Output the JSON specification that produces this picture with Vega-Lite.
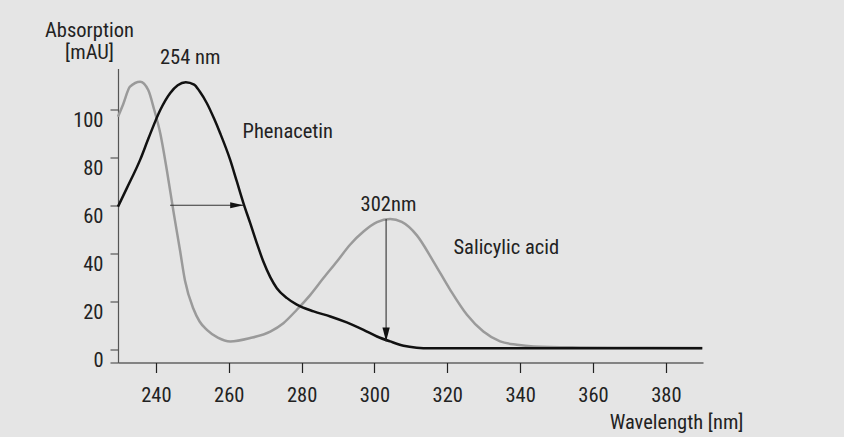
{
  "$schema": "https://vega.github.io/schema/vega-lite/v6.json",
  "autosize": "none",
  "width": 585,
  "height": 294,
  "padding": {"left": 118, "top": 68.5, "right": 141, "bottom": 74.5},
  "background": "#e5e5e5",
  "config": {
    "font": "Roboto Condensed, DejaVu Sans Condensed, sans-serif",
    "view": {"stroke": null}
  },
  "datasets": {
    "curves": [
      {"series": "Salicylic acid", "w": 229.6, "v": 96.9},
      {"series": "Salicylic acid", "w": 231, "v": 102},
      {"series": "Salicylic acid", "w": 232.9, "v": 109.4},
      {"series": "Salicylic acid", "w": 235.7, "v": 111.5},
      {"series": "Salicylic acid", "w": 237.9, "v": 108},
      {"series": "Salicylic acid", "w": 239.5, "v": 100},
      {"series": "Salicylic acid", "w": 241.2, "v": 90},
      {"series": "Salicylic acid", "w": 243, "v": 74.7},
      {"series": "Salicylic acid", "w": 244.9, "v": 56.7},
      {"series": "Salicylic acid", "w": 246.6, "v": 41.4},
      {"series": "Salicylic acid", "w": 248, "v": 28.5},
      {"series": "Salicylic acid", "w": 250.3, "v": 16.8},
      {"series": "Salicylic acid", "w": 252, "v": 11.5},
      {"series": "Salicylic acid", "w": 254, "v": 8},
      {"series": "Salicylic acid", "w": 257, "v": 4.8},
      {"series": "Salicylic acid", "w": 260.4, "v": 3.2},
      {"series": "Salicylic acid", "w": 265.9, "v": 4.6},
      {"series": "Salicylic acid", "w": 271.4, "v": 7.3},
      {"series": "Salicylic acid", "w": 275, "v": 10.8},
      {"series": "Salicylic acid", "w": 278.7, "v": 16.4},
      {"series": "Salicylic acid", "w": 282.4, "v": 22.6},
      {"series": "Salicylic acid", "w": 286, "v": 29.6},
      {"series": "Salicylic acid", "w": 289.7, "v": 36.5},
      {"series": "Salicylic acid", "w": 293.3, "v": 43.5},
      {"series": "Salicylic acid", "w": 297, "v": 49},
      {"series": "Salicylic acid", "w": 300.7, "v": 52.9},
      {"series": "Salicylic acid", "w": 304.3, "v": 54.2},
      {"series": "Salicylic acid", "w": 307.5, "v": 53},
      {"series": "Salicylic acid", "w": 311.6, "v": 47.5},
      {"series": "Salicylic acid", "w": 316.2, "v": 36.5},
      {"series": "Salicylic acid", "w": 320.8, "v": 24.7},
      {"series": "Salicylic acid", "w": 325.4, "v": 14.3},
      {"series": "Salicylic acid", "w": 329.9, "v": 7.3},
      {"series": "Salicylic acid", "w": 334.5, "v": 3.2},
      {"series": "Salicylic acid", "w": 339.1, "v": 1.8},
      {"series": "Salicylic acid", "w": 343.7, "v": 1.1},
      {"series": "Salicylic acid", "w": 356.5, "v": 0.7},
      {"series": "Salicylic acid", "w": 375, "v": 0.5},
      {"series": "Salicylic acid", "w": 390, "v": 0.4},
      {"series": "Phenacetin", "w": 229.6, "v": 59.4},
      {"series": "Phenacetin", "w": 232, "v": 67},
      {"series": "Phenacetin", "w": 235.7, "v": 79},
      {"series": "Phenacetin", "w": 238, "v": 88},
      {"series": "Phenacetin", "w": 241.2, "v": 99.7},
      {"series": "Phenacetin", "w": 243.9, "v": 106.7},
      {"series": "Phenacetin", "w": 246, "v": 110},
      {"series": "Phenacetin", "w": 248.2, "v": 111.3},
      {"series": "Phenacetin", "w": 250.5, "v": 110.3},
      {"series": "Phenacetin", "w": 252, "v": 107.5},
      {"series": "Phenacetin", "w": 254, "v": 102.5},
      {"series": "Phenacetin", "w": 256, "v": 96},
      {"series": "Phenacetin", "w": 257.65, "v": 90},
      {"series": "Phenacetin", "w": 260.4, "v": 78.9},
      {"series": "Phenacetin", "w": 262.2, "v": 70},
      {"series": "Phenacetin", "w": 264.05, "v": 60.8},
      {"series": "Phenacetin", "w": 265.9, "v": 52.5},
      {"series": "Phenacetin", "w": 267.7, "v": 44.2},
      {"series": "Phenacetin", "w": 269.5, "v": 36.5},
      {"series": "Phenacetin", "w": 271.4, "v": 30},
      {"series": "Phenacetin", "w": 273.2, "v": 25.4},
      {"series": "Phenacetin", "w": 276, "v": 21.25},
      {"series": "Phenacetin", "w": 278.7, "v": 18.5},
      {"series": "Phenacetin", "w": 283.3, "v": 15.7},
      {"series": "Phenacetin", "w": 287.9, "v": 13.6},
      {"series": "Phenacetin", "w": 292.4, "v": 11.1},
      {"series": "Phenacetin", "w": 297, "v": 8},
      {"series": "Phenacetin", "w": 300.7, "v": 5.25},
      {"series": "Phenacetin", "w": 304.3, "v": 3.2},
      {"series": "Phenacetin", "w": 308, "v": 1.4},
      {"series": "Phenacetin", "w": 311.6, "v": 0.6},
      {"series": "Phenacetin", "w": 315.3, "v": 0.35},
      {"series": "Phenacetin", "w": 340, "v": 0.3},
      {"series": "Phenacetin", "w": 390, "v": 0.3}
    ],
    "arrows": [
      {"name": "shift", "x1": 243.9, "x2": 264.05, "y1": 60, "y2": 60},
      {"name": "drop", "x1": 303.2, "x2": 303.2, "y1": 54.2, "y2": 3.2}
    ],
    "labels": [
      {"text": "254 nm", "w": 249.4, "v": 118.9, "align": "center"},
      {"text": "302nm", "w": 303.85, "v": 57.75, "align": "center"},
      {"text": "Phenacetin", "w": 263.8, "v": 88, "align": "left"},
      {"text": "Salicylic acid", "w": 321.7, "v": 39.7, "align": "left"}
    ]
  },
  "layer": [
    {
      "data": {"name": "curves"},
      "mark": {"type": "line", "interpolate": "monotone", "strokeWidth": 2.5},
      "encoding": {
        "x": {
          "field": "w", "type": "quantitative",
          "scale": {"domain": [229.6, 390.2], "nice": false, "zero": false},
          "axis": {
            "values": [240, 260, 280, 300, 320, 340, 360, 380],
            "grid": false,
            "domainColor": "#222", "domainWidth": 1.2,
            "tickColor": "#222", "tickSize": 10, "tickWidth": 1.2,
            "labelFont": "Roboto Condensed, DejaVu Sans Condensed, sans-serif",
            "labelFontSize": 20.5, "labelColor": "#222",
            "labelBaseline": "alphabetic", "labelPadding": 29,
            "title": "Wavelength [nm]",
            "titleFont": "Roboto Condensed, DejaVu Sans Condensed, sans-serif",
            "titleFontSize": 20.5, "titleFontWeight": "normal", "titleColor": "#222",
            "titleAlign": "right", "titleBaseline": "alphabetic",
            "titleX": 625, "titleY": 65.6
          }
        },
        "y": {
          "field": "v", "type": "quantitative",
          "scale": {"domain": [-5.6, 117], "nice": false, "zero": false},
          "axis": {
            "values": [-5.6, 0, 20, 40, 60, 80, 100],
            "labelExpr": "datum.value < 0 ? '' : datum.label",
            "grid": false,
            "domainColor": "#555", "domainWidth": 1.2,
            "tickColor": "#555", "tickSize": 8, "tickWidth": 1.2,
            "labelFont": "Roboto Condensed, DejaVu Sans Condensed, sans-serif",
            "labelFontSize": 20.5, "labelColor": "#222",
            "labelBaseline": "middle", "labelOffset": 11, "labelPadding": 7,
            "title": ["Absorption", "[mAU]"],
            "titleFont": "Roboto Condensed, DejaVu Sans Condensed, sans-serif",
            "titleFontSize": 20.5, "titleFontWeight": "normal", "titleColor": "#222",
            "titleAngle": 0, "titleAlign": "center", "titleBaseline": "alphabetic",
            "titleLineHeight": 22,
            "titleX": -29, "titleY": -31.8
          }
        },
        "color": {
          "field": "series", "type": "nominal",
          "scale": {"domain": ["Salicylic acid", "Phenacetin"], "range": ["#9a9a9a", "#111111"]},
          "legend": null
        }
      }
    },
    {
      "data": {"name": "arrows"},
      "mark": {"type": "rule", "color": "#333", "strokeWidth": 1.1},
      "encoding": {
        "x": {"field": "x1", "type": "quantitative"},
        "x2": {"field": "x2"},
        "y": {"field": "y1", "type": "quantitative"},
        "y2": {"field": "y2"}
      }
    },
    {
      "data": {"name": "arrows"},
      "transform": [{"filter": "datum.name === 'shift'"}],
      "mark": {"type": "point", "shape": "M0,0L-1,-0.23L-1,0.23Z", "size": 707, "filled": true, "color": "#111", "opacity": 1, "strokeWidth": 0},
      "encoding": {
        "x": {"field": "x2", "type": "quantitative"},
        "y": {"field": "y2", "type": "quantitative"}
      }
    },
    {
      "data": {"name": "arrows"},
      "transform": [{"filter": "datum.name === 'drop'"}],
      "mark": {"type": "point", "shape": "M0,0L-0.26,-1L0.26,-1Z", "size": 784, "filled": true, "color": "#111", "opacity": 1, "strokeWidth": 0},
      "encoding": {
        "x": {"field": "x2", "type": "quantitative"},
        "y": {"field": "y2", "type": "quantitative"}
      }
    },
    {
      "data": {"name": "labels"},
      "transform": [{"filter": "datum.align === 'center'"}],
      "mark": {"type": "text", "align": "center", "baseline": "alphabetic", "fontSize": 20.5, "color": "#222", "font": "Roboto Condensed, DejaVu Sans Condensed, sans-serif"},
      "encoding": {
        "x": {"field": "w", "type": "quantitative"},
        "y": {"field": "v", "type": "quantitative"},
        "text": {"field": "text"}
      }
    },
    {
      "data": {"name": "labels"},
      "transform": [{"filter": "datum.align === 'left'"}],
      "mark": {"type": "text", "align": "left", "baseline": "alphabetic", "fontSize": 20.5, "color": "#222", "font": "Roboto Condensed, DejaVu Sans Condensed, sans-serif"},
      "encoding": {
        "x": {"field": "w", "type": "quantitative"},
        "y": {"field": "v", "type": "quantitative"},
        "text": {"field": "text"}
      }
    }
  ]
}
